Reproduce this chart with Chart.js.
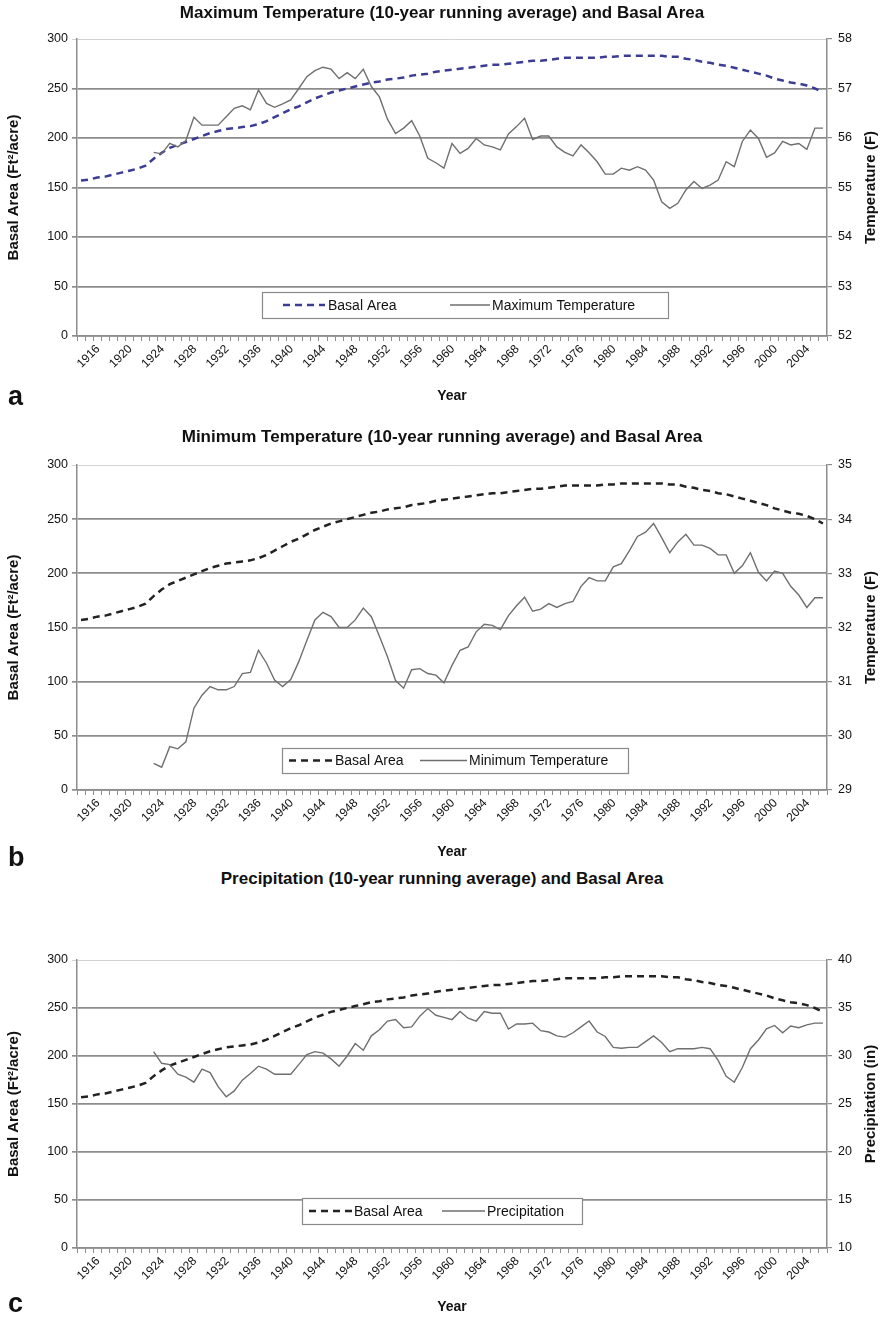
<!DOCTYPE html>
<html>
<head>
<meta charset="utf-8">
<script src="https://cdn.jsdelivr.net/npm/chart.js@4.4.1/dist/chart.umd.min.js"></script>
<style>
  html, body { margin: 0; padding: 0; background: #fff; }
  #page { position: relative; width: 884px; height: 1317px; overflow: hidden;
          font-family: "Liberation Sans", Arial, sans-serif; color: #111; }
  #page canvas { position: absolute; left: 0; }
  .title { position: absolute; left: 0; width: 884px; text-align: center;
           font-weight: bold; font-size: 17px; line-height: 20px; }
  .letter { position: absolute; left: 8px; font-weight: bold; font-size: 27px; line-height: 30px; }
</style>
</head>
<body>
<div id="page">
  <canvas id="chartA" width="884" height="410" style="top:0px"></canvas>
  <canvas id="chartB" width="884" height="445" style="top:420px"></canvas>
  <canvas id="chartC" width="884" height="407" style="top:910px"></canvas>

  <div class="title" style="top:3px">Maximum Temperature (10-year running average) and Basal Area</div>
  <div class="title" style="top:427px">Minimum Temperature (10-year running average) and Basal Area</div>
  <div class="title" style="top:869px">Precipitation (10-year running average) and Basal Area</div>

  <div class="letter" style="top:381px">a</div>
  <div class="letter" style="top:842px">b</div>
  <div class="letter" style="top:1288px">c</div>
</div>

<script>
// ---- categories -------------------------------------------------------
const years = [
  1915, 1916, 1917, 1918, 1919, 1920, 1921, 1922, 1923, 1924,
  1925, 1926, 1927, 1928, 1929, 1930, 1931, 1932, 1933, 1934,
  1935, 1936, 1937, 1938, 1939, 1940, 1941, 1942, 1943, 1944,
  1945, 1946, 1947, 1948, 1949, 1950, 1951, 1952, 1953, 1954,
  1955, 1956, 1957, 1958, 1959, 1960, 1961, 1962, 1963, 1964,
  1965, 1966, 1967, 1968, 1969, 1970, 1971, 1972, 1973, 1974,
  1975, 1976, 1977, 1978, 1979, 1980, 1981, 1982, 1983, 1984,
  1985, 1986, 1987, 1988, 1989, 1990, 1991, 1992, 1993, 1994,
  1995, 1996, 1997, 1998, 1999, 2000, 2001, 2002, 2003, 2004,
  2005, 2006, 2007
];

// years that carry a label on the x axis
const labeledYears = [
  1916, 1920, 1924, 1928, 1932, 1936, 1940, 1944, 1948, 1952, 1956, 1960,
  1964, 1968, 1972, 1976, 1980, 1984, 1988, 1992, 1996, 2000, 2004
];

// ---- series -----------------------------------------------------------
// Basal area, ft²/acre
const basalArea = [
  157, 158, 160, 161, 163, 165, 167, 169, 172, 179,
  185, 190, 193, 196, 199, 202, 205, 207, 209, 210,
  211, 212, 214, 217, 221, 225, 229, 232, 236, 240,
  243, 246, 248, 250, 252, 254, 256, 257, 259, 260,
  261, 263, 264, 265, 267, 268, 269, 270, 271, 272,
  273, 274, 274, 275, 276, 277, 278, 278, 279, 280,
  281, 281, 281, 281, 281, 282, 282, 283, 283, 283,
  283, 283, 283, 282, 282, 280, 279, 277, 276, 274,
  273, 271, 269, 267, 265, 263, 260, 258, 256, 255,
  253, 250, 246
];

// Maximum temperature, 10-year running average (°F)
const maxTemp = [
  null, null, null, null, null, null, null, null, null,
  55.71, 55.68, 55.89, 55.82, 55.95, 56.42, 56.26, 56.26, 56.26, 56.43,
  56.60, 56.65, 56.57, 56.97, 56.70, 56.62, 56.69, 56.77, 57.00, 57.24,
  57.36, 57.43, 57.39, 57.20, 57.32, 57.20, 57.39, 57.04, 56.83, 56.38,
  56.09, 56.20, 56.35, 56.04, 55.59, 55.50, 55.39, 55.89, 55.69, 55.79,
  55.99, 55.86, 55.82, 55.76, 56.08, 56.23, 56.40, 55.97, 56.04, 56.04,
  55.82, 55.71, 55.64, 55.86, 55.70, 55.52, 55.27, 55.27, 55.39, 55.35,
  55.42, 55.35, 55.15, 54.71, 54.58, 54.68, 54.95, 55.12, 54.98, 55.05,
  55.15, 55.52, 55.42, 55.93, 56.16, 55.99, 55.61, 55.70, 55.93, 55.86,
  55.89, 55.77, 56.20, 56.20
];

// Minimum temperature, 10-year running average (°F)
const minTemp = [
  null, null, null, null, null, null, null, null, null,
  29.49, 29.42, 29.80, 29.76, 29.89, 30.51, 30.75, 30.91, 30.85, 30.85,
  30.91, 31.15, 31.17, 31.58, 31.34, 31.03, 30.91, 31.04, 31.37, 31.76,
  32.14, 32.28, 32.20, 32.00, 32.00, 32.14, 32.36, 32.20, 31.84, 31.46,
  31.02, 30.88, 31.22, 31.24, 31.15, 31.12, 30.98, 31.30, 31.58, 31.64,
  31.92, 32.06, 32.04, 31.96, 32.22, 32.40, 32.56, 32.30, 32.34, 32.44,
  32.37, 32.44, 32.48, 32.76, 32.92, 32.86, 32.86, 33.12, 33.18, 33.42,
  33.68, 33.76, 33.92, 33.66, 33.38, 33.58, 33.72, 33.52, 33.52, 33.46,
  33.34, 33.34, 33.00, 33.14, 33.38, 33.02, 32.86, 33.04, 33.00, 32.76,
  32.60, 32.37, 32.55, 32.55
];

// Precipitation, 10-year running average (in)
const precip = [
  null, null, null, null, null, null, null, null, null,
  30.45, 29.24, 29.10, 28.10, 27.80, 27.27, 28.64, 28.27, 26.80, 25.76,
  26.36, 27.48, 28.18, 28.94, 28.64, 28.10, 28.10, 28.10, 29.10, 30.15,
  30.45, 30.30, 29.70, 28.94, 30.00, 31.30, 30.60, 32.10, 32.73, 33.64,
  33.79, 32.94, 33.03, 34.15, 34.94, 34.24, 34.03, 33.79, 34.64, 33.94,
  33.64, 34.64, 34.45, 34.45, 32.80, 33.33, 33.33, 33.42, 32.64, 32.50,
  32.10, 31.97, 32.42, 33.03, 33.64, 32.50, 32.03, 30.90, 30.80, 30.90,
  30.90, 31.50, 32.10, 31.40, 30.45, 30.76, 30.76, 30.76, 30.90, 30.76,
  29.55, 27.88, 27.27, 28.80, 30.76, 31.67, 32.82, 33.18, 32.42, 33.12,
  32.94, 33.24, 33.42, 33.42
];

// ---- styling -----------------------------------------------------------
const FONT = '"Liberation Sans", Arial, sans-serif';
const GRID = '#8c8c8c';
const TEXT = '#111';

// Boxed legend drawn inside the plot area
const boxLegend = {
  id: 'boxLegend',
  afterDraw(chart, args, o) {
    if (!o || !o.width) return;
    const { ctx, chartArea } = chart;
    const x0 = chartArea.left + o.left;
    const y0 = chartArea.bottom - o.bottom - o.height;
    const cy = y0 + o.height / 2;
    ctx.save();
    ctx.fillStyle = '#fff';
    ctx.fillRect(x0, y0, o.width, o.height);
    ctx.strokeStyle = '#8a8a8a';
    ctx.lineWidth = 1.2;
    ctx.strokeRect(x0 + 0.5, y0 + 0.5, o.width, o.height);
    ctx.font = '14px ' + FONT;
    ctx.fillStyle = TEXT;
    ctx.textBaseline = 'middle';
    chart.data.datasets.forEach((ds, i) => {
      const it = o.items[i];
      ctx.beginPath();
      ctx.strokeStyle = ds.borderColor;
      ctx.lineWidth = ds.borderWidth;
      ctx.setLineDash(ds.borderDash || []);
      ctx.moveTo(x0 + it.s0, cy);
      ctx.lineTo(x0 + it.s1, cy);
      ctx.stroke();
      ctx.setLineDash([]);
      ctx.fillText(ds.label, x0 + it.t, cy + 1);
    });
    ctx.restore();
  }
};

// Right-hand axis title, reading bottom-to-top like the left one
const rightTitle = {
  id: 'rightTitle',
  afterDraw(chart, args, o) {
    if (!o || !o.text) return;
    const { ctx, chartArea } = chart;
    ctx.save();
    ctx.translate(o.x, (chartArea.top + chartArea.bottom) / 2);
    ctx.rotate(-Math.PI / 2);
    ctx.font = 'bold 15px ' + FONT;
    ctx.fillStyle = TEXT;
    ctx.textAlign = 'center';
    ctx.textBaseline = 'middle';
    ctx.fillText(o.text, 0, 0);
    ctx.restore();
  }
};

function makePanel(id, cfg) {
  const tickFont = { family: FONT, size: 12.5 };
  return new Chart(document.getElementById(id), {
    type: 'line',
    data: {
      labels: years,
      datasets: [
        {
          label: 'Basal Area',
          data: basalArea,
          yAxisID: 'y',
          borderColor: cfg.basalColor,
          borderWidth: 2.5,
          borderDash: [7, 5],
          pointRadius: 0,
          tension: 0,
          order: 2
        },
        {
          label: cfg.climateLabel,
          data: cfg.climate,
          yAxisID: 'y2',
          borderColor: '#6f6f6f',
          borderWidth: 1.4,
          pointRadius: 0,
          tension: 0,
          order: 1
        }
      ]
    },
    options: {
      responsive: false,
      animation: false,
      devicePixelRatio: 1,
      layout: { padding: { top: cfg.padTop, left: 0, right: 0, bottom: 0 } },
      plugins: {
        legend: { display: false },
        title: { display: false },
        tooltip: { enabled: false },
        boxLegend: cfg.legend,
        rightTitle: { text: cfg.rTitle, x: 871 }
      },
      scales: {
        x: {
          type: 'category',
          offset: true,
          afterFit: s => { s.height = cfg.xHeight; },
          grid: { display: true, drawOnChartArea: false, drawTicks: true,
                  tickLength: 5, offset: true, color: GRID, lineWidth: 1 },
          border: { display: true, color: GRID, width: 1.5 },
          ticks: {
            autoSkip: false, maxRotation: 45, minRotation: 45,
            labelOffset: 9, padding: 1,
            font: { family: FONT, size: 12 }, color: TEXT,
            callback: (v, i) => labeledYears.includes(years[i]) ? String(years[i]) : ''
          },
          title: { display: true, text: 'Year', font: { family: FONT, size: 14, weight: 'bold' },
                   color: TEXT, padding: { top: 0, bottom: cfg.yearPad } }
        },
        y: {
          position: 'left',
          min: 0, max: 300,
          afterFit: s => { s.width = 77; },
          grid: {
            color: c => (c.tick && c.tick.value === 300) ? '#d2d2d2' : GRID,
            lineWidth: c => (c.tick && c.tick.value === 300) ? 1 : 1.7,
            tickLength: 5
          },
          border: { display: true, color: GRID, width: 1.5 },
          ticks: { stepSize: 50, padding: 4, font: tickFont, color: TEXT },
          title: { display: true, text: 'Basal Area (Ft²/acre)',
                   font: { family: FONT, size: 15, weight: 'bold' },
                   color: TEXT, padding: { top: 5, bottom: 0 } }
        },
        y2: {
          position: 'right',
          min: cfg.rMin, max: cfg.rMax,
          afterFit: s => { s.width = 57; },
          grid: { drawOnChartArea: false, tickLength: 5, color: GRID, lineWidth: 1.2 },
          border: { display: true, color: GRID, width: 1.5 },
          ticks: { stepSize: cfg.rStep, padding: 6, font: tickFont, color: TEXT },
          title: { display: false }
        }
      }
    },
    plugins: [boxLegend, rightTitle]
  });
}

makePanel('chartA', {
  climate: maxTemp, climateLabel: 'Maximum Temperature', basalColor: '#3c3c95',
  rMin: 52, rMax: 58, rStep: 1, rTitle: 'Temperature (F)',
  padTop: 39, xHeight: 74, yearPad: 5,
  legend: { left: 185, bottom: 18, width: 406, height: 26,
            items: [ { s0: 21, s1: 63, t: 66 }, { s0: 188, s1: 228, t: 230 } ] }
});

makePanel('chartB', {
  climate: minTemp, climateLabel: 'Minimum Temperature', basalColor: '#222',
  rMin: 29, rMax: 35, rStep: 1, rTitle: 'Temperature (F)',
  padTop: 45, xHeight: 75, yearPad: 4,
  legend: { left: 205, bottom: 17, width: 346, height: 25,
            items: [ { s0: 7, s1: 51, t: 53 }, { s0: 138, s1: 185, t: 187 } ] }
});

makePanel('chartC', {
  climate: precip, climateLabel: 'Precipitation', basalColor: '#222',
  rMin: 10, rMax: 40, rStep: 5, rTitle: 'Precipitation (in)',
  padTop: 50, xHeight: 69, yearPad: 1,
  legend: { left: 225, bottom: 24, width: 280, height: 26,
            items: [ { s0: 7, s1: 50, t: 52 }, { s0: 140, s1: 183, t: 185 } ] }
});
</script>
</body>
</html>
